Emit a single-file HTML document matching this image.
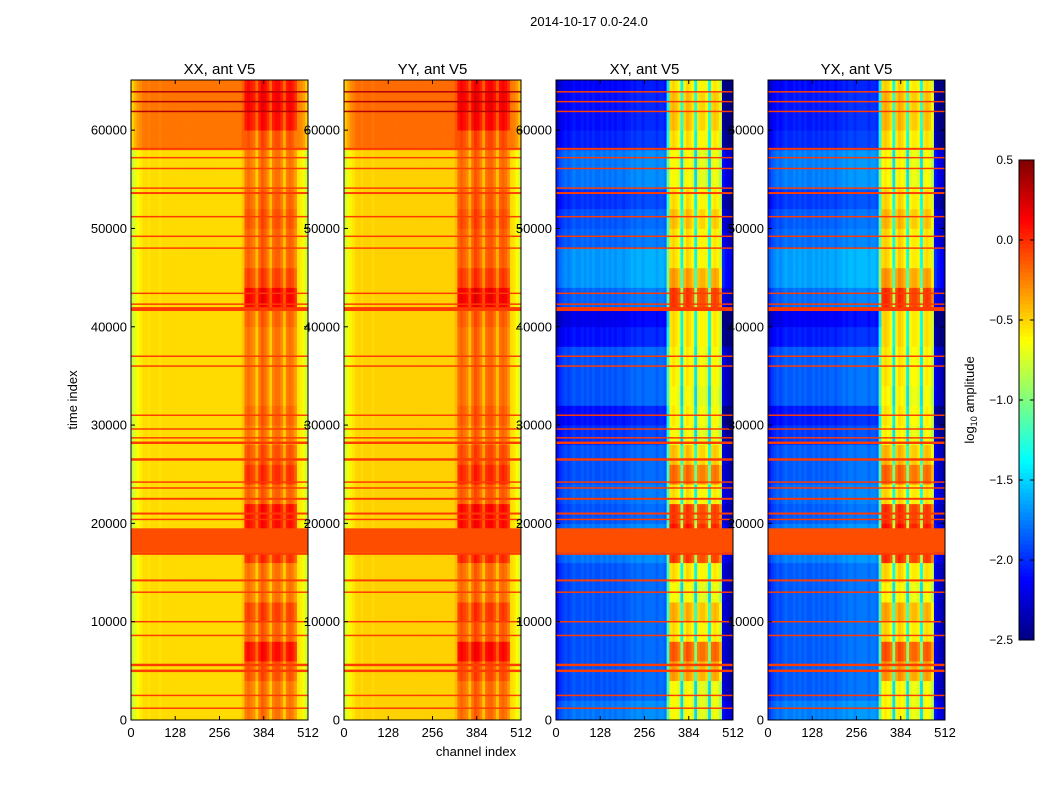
<!DOCTYPE html>
<html><head><meta charset="utf-8"><style>
body{margin:0;background:#fff;}
svg{font-family:"Liberation Sans","DejaVu Sans",sans-serif;}
</style></head><body>
<svg id="chart" width="1050" height="800" viewBox="0 0 1050 800">
<rect width="1050" height="800" fill="#fff"/>
<text x="589" y="26" font-size="13" text-anchor="middle">2014-10-17 0.0-24.0</text>
<text x="476" y="756" font-size="13" text-anchor="middle">channel index</text>
<text transform="translate(77,400) rotate(-90)" font-size="13" text-anchor="middle">time index</text>
<text transform="translate(974,400) rotate(-90)" font-size="13" text-anchor="middle">log<tspan font-size="9" dy="3">10</tspan><tspan dy="-3"> amplitude</tspan></text>
<g id="panels"></g>
<g id="cbar"></g>
</svg>
<script>
// channel profiles, 64 bins of 8 channels (log10 amplitude)
const coProfile=[-0.8,-0.7,-0.62,-0.58,-0.53,-0.52,-0.55,-0.52,-0.52,-0.52,-0.55,-0.52,-0.52,-0.52,-0.52,-0.52,-0.52,-0.52,-0.52,-0.52,-0.52,-0.52,-0.52,-0.52,-0.52,-0.52,-0.52,-0.52,-0.52,-0.52,-0.52,-0.52,-0.52,-0.52,-0.52,-0.52,-0.52,-0.52,-0.52,-0.52,
 -0.45,-0.25,-0.2,-0.25,-0.3,-0.48,-0.25,-0.15,-0.2,-0.3,-0.48,-0.25,-0.2,-0.2,-0.3,-0.48,-0.25,-0.2,-0.25,-0.35,-0.55,-0.58,-0.65,-0.78];
const crossProfile=[-2.1,-2.0,-1.95,-1.9,-1.95,-1.9,-1.85,-1.9,-1.9,-1.85,-1.9,-1.85,-1.9,-1.85,-1.9,-1.9,-1.85,-1.9,-1.85,-1.9,-1.85,-1.9,-1.85,-1.85,-1.9,-1.85,-1.85,-1.8,-1.85,-1.8,-1.8,-1.85,-1.8,-1.8,-1.8,-1.8,-1.85,-1.8,-1.8,-1.85,
 -1.2,-0.65,-0.6,-0.65,-0.75,-1.5,-0.7,-0.6,-0.65,-0.75,-1.5,-0.75,-0.7,-0.7,-0.8,-1.5,-0.7,-0.65,-0.7,-0.9,-2.2,-2.3,-2.35,-2.4];
// time bins of 2000 samples (33 bins)
const coBaseShift=[0,0,0,0,0,0,0,0,0,0,0,0,0,0,0,0,0,0,0,0,0,0,0,0,0,0,0,0,0,0.3,0.3,0.3,0.3];
const coActiveShift=[0,0,0.1,0.3,0.05,0.15,0,0,0.2,0.3,0.3,0.05,0.2,0.1,0,0.05,0,0,0,0,0.05,0.35,0.15,0.05,0.05,0.1,0.05,0,0,0.1,0.3,0.35,0.3];
const crossBaseShift=[0.1,0,0,0,0,0,0,0,0.1,0.1,0,0.05,0,0,-0.1,-0.2,0,0,0,-0.2,-0.3,0.05,0.2,0.2,0.05,0,-0.1,0.1,0.1,-0.15,-0.2,-0.2,-0.25];
const crossActiveShift=[0,0,0.3,0.5,0.1,0.25,0,0.1,0.6,0.7,0.6,0.1,0.45,0.2,0,0.05,0,0.05,0.05,0.1,0.1,0.6,0.3,0.1,0.1,0.2,0.1,0,0,0.1,0.2,0.2,0.1];
// RFI stripe times and widths
const stripeTimes=[1200,2500,5000,5600,8600,10000,13000,14200,16900,20400,21000,22500,23600,24200,26500,28200,28700,29600,31000,36000,37000,41800,42300,43400,48000,49200,51200,53600,54100,56100,57200,58100,61900,62900,63900];
const stripeWidths=[150,150,250,250,150,150,150,200,200,150,200,200,150,150,250,250,150,150,150,150,150,400,150,150,150,150,150,200,150,150,150,200,150,150,150];
const stripeValue=-0.05;
const darkStripeValue=0.35;
const panelTitles=["XX, ant V5","YY, ant V5","XY, ant V5","YX, ant V5"];
const panelX=[131,344,556,768];
const xTicks=[0,128,256,384,512];
const yTicks=[0,10000,20000,30000,40000,50000,60000];
const cbTicks=[-2.5,-2.0,-1.5,-1.0,-0.5,0.0,0.5];
const panelW=177, yTop=80, yBot=720, tMax=65100, vMin=-2.5, vMax=0.5;
const NS="http://www.w3.org/2000/svg";
function yScale(t){return yBot-(t/tMax)*(yBot-yTop);}
function jet(v){let t=(v-vMin)/(vMax-vMin);t=Math.max(0,Math.min(1,t));
 const c=x=>Math.round(255*Math.max(0,Math.min(1,x)));
 return `rgb(${c(1.5-Math.abs(4*t-3))},${c(1.5-Math.abs(4*t-2))},${c(1.5-Math.abs(4*t-1))})`;}
function mk(tag,attrs,parent){const e=document.createElementNS(NS,tag);for(const k in attrs)e.setAttribute(k,attrs[k]);parent.appendChild(e);return e;}
const panels=document.getElementById('panels');
panelTitles.forEach((title,p)=>{
 const x0=panelX[p];const xScale=ch=>x0+ch/512*panelW;
 const g=mk('g',{},panels);
 
 
 const cross=p>=2;const prof=cross?crossProfile:coProfile;
 const bs=cross?crossBaseShift:coBaseShift, as=cross?crossActiveShift:coActiveShift;
 const extra=(p%2)?0.03:0;
 for(let ti=0;ti<bs.length;ti++){
  const t0=ti*2000,t1=Math.min((ti+1)*2000,tMax);
  for(let ci=0;ci<prof.length;ci++){
   const active=ci>=41&&ci<60;
   let v=prof[ci]+(active?as[ti]:bs[ti])+extra;
   const r=mk('rect',{x:xScale(ci*8),y:yScale(t1),width:panelW/64+0.4,height:yScale(t0)-yScale(t1)+0.4,fill:jet(v)},g);
   
   
  }
 }
 // RFI band 17000-19500
 const band=mk('rect',{x:x0,y:yScale(19500),width:panelW,height:yScale(17000)-yScale(19500),fill:jet(-0.1)},g);
 
 
 stripeTimes.forEach((t,i)=>{
  const sv=(!cross&&t>58500)?darkStripeValue:stripeValue;
  const s=mk('rect',{x:x0,y:yScale(t+stripeWidths[i]/2),width:panelW,height:Math.max(1.2,yScale(t-stripeWidths[i]/2)-yScale(t+stripeWidths[i]/2)),fill:jet(sv)},g);
  
  
 });
 const fr=mk('rect',{x:x0,y:yTop,width:panelW,height:yBot-yTop,fill:'none',stroke:'#000','stroke-width':1},g);
 
 
 const tt=mk('text',{x:x0+panelW/2,y:74,'font-size':15,'text-anchor':'middle'},g);tt.textContent=title;
 
 
 xTicks.forEach(v=>{const x=xScale(v);
  mk('line',{x1:x,x2:x,y1:yBot,y2:yBot-4,stroke:'#000'},g);mk('line',{x1:x,x2:x,y1:yTop,y2:yTop+4,stroke:'#000'},g);
  const l=mk('text',{x:x,y:737,'font-size':13,'text-anchor':'middle'},g);l.textContent=v;
  
  });
 yTicks.forEach(v=>{const y=yScale(v);
  mk('line',{x1:x0,x2:x0+4,y1:y,y2:y,stroke:'#000'},g);mk('line',{x1:x0+panelW,x2:x0+panelW-4,y1:y,y2:y,stroke:'#000'},g);
  const l=mk('text',{x:x0-4,y:y+4.5,'font-size':13,'text-anchor':'end'},g);l.textContent=v;
  
  });
});
// colorbar
const cb=document.getElementById('cbar');
const cbX=1019,cbW=15,cbTop=160,cbBot=640;
for(let i=0;i<120;i++){const v0=vMin+(vMax-vMin)*i/120,v1=vMin+(vMax-vMin)*(i+1)/120;
 const y=cbBot-(i+1)/120*(cbBot-cbTop);
 const r=mk('rect',{x:cbX,y:y,width:cbW,height:(cbBot-cbTop)/120+0.5,fill:jet((v0+v1)/2)},cb);
 
 }
const cf=mk('rect',{x:cbX,y:cbTop,width:cbW,height:cbBot-cbTop,fill:'none',stroke:'#000'},cb);


cbTicks.forEach(v=>{const y=cbBot-(v-vMin)/(vMax-vMin)*(cbBot-cbTop);
 mk('line',{x1:cbX,x2:cbX+4,y1:y,y2:y,stroke:'#000'},cb);
 mk('line',{x1:cbX+cbW-4,x2:cbX+cbW,y1:y,y2:y,stroke:'#000'},cb);
 const l=mk('text',{x:1013,y:y+4,'font-size':12,'text-anchor':'end'},cb);l.textContent=v.toFixed(1).replace('-','\u2212');
 
 });
</script>
</body></html>
